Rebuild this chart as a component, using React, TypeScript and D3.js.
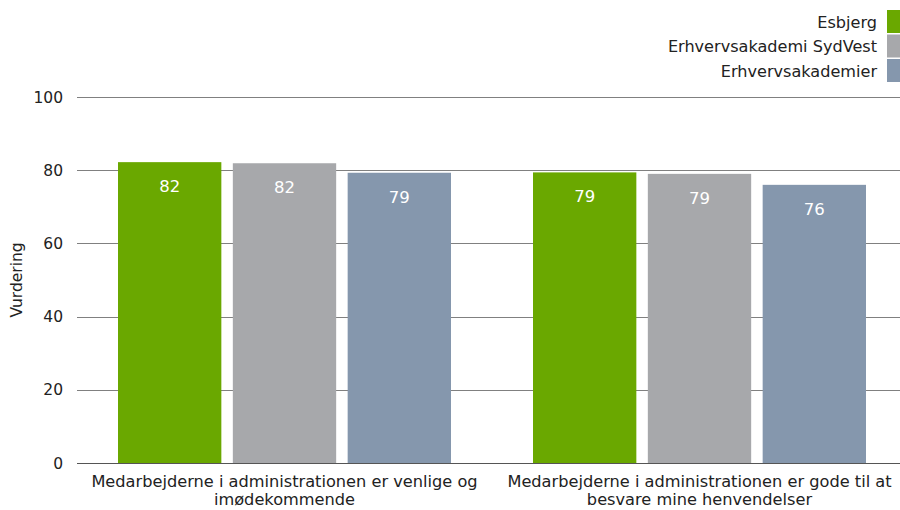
import React, { useEffect, useRef } from 'react';
import * as d3 from 'd3';

const categories = [
  ['Medarbejderne i administrationen er venlige og', 'imødekommende'],
  ['Medarbejderne i administrationen er gode til at', 'besvare mine henvendelser'],
];
const seriesNames = ['Esbjerg', 'Erhvervsakademi SydVest', 'Erhvervsakademier'];
const seriesColors = ['#6aa800', '#a7a8ab', '#8597ad'];
const esbjerg = [82.2, 79.4];
const sydvest = [81.9, 79.0];
const akademier = [79.3, 76.0];
const labels = [
  ['82', '82', '79'],
  ['79', '79', '76'],
];
const yTicks = [0, 20, 40, 60, 80, 100];

const FONT = "'DejaVu Sans', Verdana, sans-serif";

export default function App() {
  const ref = useRef<SVGSVGElement>(null);

  useEffect(() => {
    const width = 900;
    const height = 510;
    const margin = { top: 97, right: -7, bottom: 47, left: 77 };
    const svg = d3.select(ref.current);
    svg.selectAll('*').remove();
    svg.attr('width', width).attr('height', height);

    const series = [esbjerg, sydvest, akademier];

    const x0 = d3.scaleBand<number>()
      .domain([0, 1])
      .range([margin.left, width - margin.right]);
    const x1 = d3.scaleBand<number>()
      .domain([0, 1, 2])
      .range([41, x0.bandwidth() - 41])
      .paddingInner(0.1);
    const y = d3.scaleLinear()
      .domain([0, 100])
      .range([height - margin.bottom, margin.top]);

    // gridlines
    svg.append('g')
      .selectAll('line')
      .data(yTicks.filter(t => t > 0))
      .enter()
      .append('line')
      .attr('x1', margin.left)
      .attr('x2', width)
      .attr('y1', d => Math.round(y(d)) + 0.5)
      .attr('y2', d => Math.round(y(d)) + 0.5)
      .attr('stroke', '#808080')
      .attr('stroke-width', 1);

    // tick labels
    svg.append('g')
      .selectAll('text')
      .data(yTicks)
      .enter()
      .append('text')
      .attr('x', 63)
      .attr('y', d => y(d) + 5.5)
      .attr('text-anchor', 'end')
      .attr('font-family', FONT)
      .attr('font-size', 15.5)
      .attr('fill', '#222')
      .text(d => d);

    // y title
    svg.append('text')
      .attr('transform', `translate(22,${(y(0) + y(100)) / 2}) rotate(-90)`)
      .attr('text-anchor', 'middle')
      .attr('font-family', FONT)
      .attr('font-size', 15.5)
      .attr('fill', '#222')
      .text('Vurdering');

    // bars
    const groups = svg.append('g')
      .selectAll('g')
      .data(categories.map((c, i) => i))
      .enter()
      .append('g')
      .attr('transform', d => `translate(${x0(d)},0)`);

    groups.selectAll('rect')
      .data(gi => series.map((s, si) => ({ gi, si, v: s[gi] })))
      .enter()
      .append('rect')
      .attr('x', d => x1(d.si)!)
      .attr('width', x1.bandwidth())
      .attr('y', d => y(d.v))
      .attr('height', d => y(0) - y(d.v))
      .attr('fill', d => seriesColors[d.si]);

    groups.selectAll('text.val')
      .data(gi => series.map((s, si) => ({ gi, si, v: s[gi] })))
      .enter()
      .append('text')
      .attr('class', 'val')
      .attr('x', d => x1(d.si)! + x1.bandwidth() / 2)
      .attr('y', d => y(d.v) + 30)
      .attr('text-anchor', 'middle')
      .attr('font-family', FONT)
      .attr('font-size', 16.5)
      .attr('fill', '#fff')
      .text(d => labels[d.gi][d.si]);

    // baseline
    svg.append('line')
      .attr('x1', margin.left)
      .attr('x2', width)
      .attr('y1', Math.round(y(0)) + 0.5)
      .attr('y2', Math.round(y(0)) + 0.5)
      .attr('stroke', '#555');

    // category labels
    categories.forEach((lines, i) => {
      const cx = x0(i)! + x0.bandwidth() / 2;
      lines.forEach((line, li) => {
        svg.append('text')
          .attr('x', cx)
          .attr('y', 487 + li * 18)
          .attr('text-anchor', 'middle')
          .attr('font-family', FONT)
          .attr('font-size', 16.2)
          .attr('fill', '#222')
          .text(line);
      });
    });

    // legend
    const legend = svg.append('g');
    seriesNames.forEach((name, i) => {
      legend.append('rect')
        .attr('x', 887)
        .attr('y', 10 + i * 24.5)
        .attr('width', 13)
        .attr('height', 23)
        .attr('fill', seriesColors[i]);
      legend.append('text')
        .attr('x', 877)
        .attr('y', 27.5 + i * 24.5)
        .attr('text-anchor', 'end')
        .attr('font-family', FONT)
        .attr('font-size', 16.1)
        .attr('fill', '#222')
        .text(name);
    });
  }, []);

  return (
    <svg ref={ref} style={{ position: 'absolute', left: 0, top: 0 }} />
  );
}
